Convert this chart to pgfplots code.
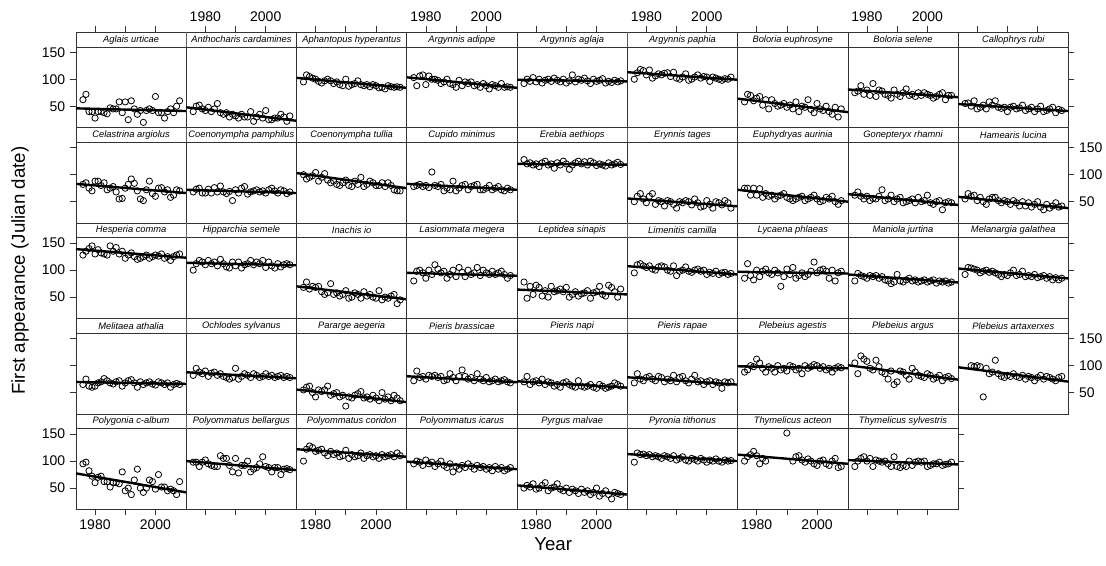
\documentclass[border=0pt]{standalone}
\usepackage{fontspec}
\setmainfont{Liberation Sans}
\usepackage{pgfplots}
\pgfplotsset{compat=1.18}
\usepgfplotslibrary{groupplots}

% one lattice panel: plot area + strip on top (strip = upper 14.5px of the axis)
\pgfplotsset{
  panel/.style={width=82.7pt, height=71.6pt, scale only axis,
    xmin=1973.7, xmax=2010.2, ymin=10.6, ymax=187.5,
    xtick=\empty, ytick=\empty,
    axis line style={black!80, line width=0.5pt},
    tick style={black!80, line width=0.5pt},
    tick align=outside, major tick length=4.5pt,
    tick label style={font=\fontsize{10.5}{12}\selectfont}},
  XT/.style={xtick={1980,1990,2000}, xtick pos=right, xticklabel pos=right, xticklabels={1980,,2000}},
  Xt/.style={xtick={1980,1990,2000}, xtick pos=right, xticklabel pos=right, xticklabels={,,}},
  XB/.style={xtick={1980,1990,2000}, xtick pos=left, xticklabel pos=left, xticklabels={1980,,2000}},
  Xb/.style={xtick={1980,1990,2000}, xtick pos=left, xticklabel pos=left, xticklabels={,,}},
  YL/.style={ytick={50,100,150}, ytick pos=left, yticklabel pos=left, yticklabels={50,100,150}},
  Yl/.style={ytick={50,100,150}, ytick pos=left, yticklabel pos=left, yticklabels={,,}},
  YR/.style={ytick={50,100,150}, ytick pos=right, yticklabel pos=right, yticklabels={50,100,150}},
  Yr/.style={ytick={50,100,150}, ytick pos=right, yticklabel pos=right, yticklabels={,,}},
}
\tikzset{
  pts/.style={only marks, mark=o, mark size=2.35pt, black, mark options={line width=0.6pt}},
  reg/.style={black, line width=1.8pt},
}
\newcommand\strip[1]{\node[anchor=north, draw=black!80, line width=0.5pt, fill=white,
  minimum width=82.7pt, minimum height=10.9pt, inner sep=0pt,
  font=\fontsize{7}{8}\selectfont\itshape] at (rel axis cs:0.5,1) {#1};}

\begin{document}
\begin{tikzpicture}
\begin{groupplot}[group style={group size=9 by 5, horizontal sep=0pt, vertical sep=0pt}, panel]
% ---------- row 1
\nextgroupplot[Xt,YL]
\strip{Aglais urticae}
\addplot[pts] coordinates {(1976,62)(1977,72)(1978,40)(1979,40)(1980,28)(1981,40)(1982,40)(1983,38)(1984,36)(1985,47)(1986,45)(1987,45)(1988,58)(1989,38)(1990,58)(1991,25)(1992,60)(1993,45)(1994,35)(1995,42)(1996,20)(1997,42)(1998,45)(1999,42)(2000,68)(2001,38)(2002,38)(2003,28)(2004,40)(2005,45)(2006,38)(2007,50)(2008,60)};
\addplot[reg] coordinates {(1973.7,46)(2010.2,41)};
\nextgroupplot[XT]
\strip{Anthocharis cardamines}
\addplot[pts] coordinates {(1976,40)(1977,50)(1978,52)(1979,45)(1980,42)(1981,48)(1982,40)(1983,45)(1984,55)(1985,38)(1986,35)(1987,38)(1988,30)(1989,35)(1990,32)(1991,28)(1992,35)(1993,30)(1994,30)(1995,40)(1996,22)(1997,30)(1998,35)(1999,28)(2000,42)(2001,25)(2002,25)(2003,28)(2004,28)(2005,35)(2006,30)(2007,22)(2008,32)};
\addplot[reg] coordinates {(1973.7,48)(2010.2,23)};
\nextgroupplot[Xt]
\strip{Aphantopus hyperantus}
\addplot[pts] coordinates {(1976,95)(1977,108)(1978,105)(1979,102)(1980,100)(1981,96)(1982,93)(1983,97)(1984,100)(1985,97)(1986,92)(1987,95)(1988,90)(1989,88)(1990,100)(1991,87)(1992,90)(1993,92)(1994,97)(1995,90)(1996,88)(1997,90)(1998,86)(1999,90)(2000,88)(2001,84)(2002,85)(2003,82)(2004,88)(2005,86)(2006,85)(2007,86)(2008,85)};
\addplot[reg] coordinates {(1973.7,102.5)(2010.2,84)};
\nextgroupplot[XT]
\strip{Argynnis adippe}
\addplot[pts] coordinates {(1976,103)(1977,88)(1978,106)(1979,108)(1980,90)(1981,106)(1982,100)(1983,100)(1984,98)(1985,92)(1986,95)(1987,100)(1988,92)(1989,90)(1990,85)(1991,98)(1992,88)(1993,95)(1994,92)(1995,95)(1996,88)(1997,90)(1998,85)(1999,92)(2000,88)(2001,82)(2002,90)(2003,88)(2004,85)(2005,92)(2006,85)(2007,86)(2008,85)};
\addplot[reg] coordinates {(1973.7,103.5)(2010.2,84)};
\nextgroupplot[Xt]
\strip{Argynnis aglaja}
\addplot[pts] coordinates {(1976,92)(1977,100)(1978,96)(1979,103)(1980,95)(1981,100)(1982,93)(1983,98)(1984,100)(1985,96)(1986,102)(1987,98)(1988,95)(1989,100)(1990,93)(1991,97)(1992,108)(1993,95)(1994,100)(1995,98)(1996,102)(1997,97)(1998,92)(1999,100)(2000,96)(2001,98)(2002,101)(2003,93)(2004,96)(2005,94)(2006,98)(2007,95)(2008,97)};
\addplot[reg] coordinates {(1973.7,99)(2010.2,96)};
\nextgroupplot[XT]
\strip{Argynnis paphia}
\addplot[pts] coordinates {(1976,100)(1977,112)(1978,118)(1979,116)(1980,108)(1981,117)(1982,102)(1983,106)(1984,110)(1985,108)(1986,111)(1987,112)(1988,105)(1989,113)(1990,102)(1991,100)(1992,104)(1993,110)(1994,98)(1995,100)(1996,104)(1997,108)(1998,102)(1999,105)(2000,104)(2001,96)(2002,104)(2003,102)(2004,100)(2005,98)(2006,101)(2007,100)(2008,104)};
\addplot[reg] coordinates {(1973.7,113)(2010.2,99)};
\nextgroupplot[Xt]
\strip{Boloria euphrosyne}
\addplot[pts] coordinates {(1976,58)(1977,72)(1978,70)(1979,60)(1980,65)(1981,68)(1982,52)(1983,62)(1984,45)(1985,62)(1986,55)(1987,50)(1988,52)(1989,55)(1990,48)(1991,52)(1992,45)(1993,58)(1994,40)(1995,50)(1996,48)(1997,62)(1998,44)(1999,38)(2000,55)(2001,45)(2002,42)(2003,50)(2004,40)(2005,35)(2006,48)(2007,30)(2008,45)};
\addplot[reg] coordinates {(1973.7,64)(2010.2,39)};
\nextgroupplot[XT]
\strip{Boloria selene}
\addplot[pts] coordinates {(1976,75)(1977,78)(1978,88)(1979,72)(1980,80)(1981,70)(1982,92)(1983,68)(1984,80)(1985,78)(1986,72)(1987,70)(1988,65)(1989,80)(1990,72)(1991,68)(1992,75)(1993,82)(1994,70)(1995,72)(1996,68)(1997,75)(1998,70)(1999,75)(2000,72)(2001,70)(2002,65)(2003,68)(2004,72)(2005,75)(2006,62)(2007,70)(2008,70)};
\addplot[reg] coordinates {(1973.7,81)(2010.2,66.6)};
\nextgroupplot[Xt,Yr]
\strip{Callophrys rubi}
\addplot[pts] coordinates {(1976,55)(1977,56)(1978,50)(1979,60)(1980,45)(1981,48)(1982,52)(1983,45)(1984,58)(1985,52)(1986,60)(1987,48)(1988,46)(1989,48)(1990,40)(1991,48)(1992,50)(1993,45)(1994,47)(1995,52)(1996,42)(1997,45)(1998,48)(1999,40)(2000,45)(2001,50)(2002,40)(2003,42)(2004,45)(2005,48)(2006,38)(2007,44)(2008,42)};
\addplot[reg] coordinates {(1973.7,54)(2010.2,41)};
% ---------- row 2
\nextgroupplot[Yl]
\strip{Celastrina argiolus}
\addplot[pts] coordinates {(1976,82)(1977,85)(1978,75)(1979,70)(1980,88)(1981,88)(1982,80)(1983,85)(1984,72)(1985,75)(1986,78)(1987,68)(1988,55)(1989,56)(1990,75)(1991,82)(1992,92)(1993,84)(1994,70)(1995,55)(1996,52)(1997,72)(1998,88)(1999,65)(2000,60)(2001,75)(2002,76)(2003,68)(2004,72)(2005,58)(2006,62)(2007,72)(2008,70)};
\addplot[reg] coordinates {(1973.7,83)(2010.2,66)};
\nextgroupplot
\strip{Coenonympha pamphilus}
\addplot[pts] coordinates {(1976,68)(1977,73)(1978,75)(1979,66)(1980,66)(1981,73)(1982,66)(1983,76)(1984,68)(1985,79)(1986,68)(1987,65)(1988,69)(1989,52)(1990,72)(1991,66)(1992,75)(1993,78)(1994,64)(1995,68)(1996,70)(1997,72)(1998,68)(1999,70)(2000,66)(2001,72)(2002,75)(2003,70)(2004,66)(2005,72)(2006,70)(2007,65)(2008,68)};
\addplot[reg] coordinates {(1973.7,72)(2010.2,66)};
\nextgroupplot
\strip{Coenonympha tullia}
\addplot[pts] coordinates {(1976,100)(1977,92)(1978,95)(1979,98)(1980,104)(1981,88)(1982,95)(1983,102)(1984,90)(1985,85)(1986,88)(1987,82)(1988,80)(1989,85)(1990,90)(1991,80)(1992,78)(1993,88)(1994,82)(1995,95)(1996,78)(1997,82)(1998,88)(1999,85)(2000,80)(2001,80)(2002,85)(2003,78)(2004,85)(2005,80)(2006,72)(2007,70)(2008,70)};
\addplot[reg] coordinates {(1973.7,103)(2010.2,75)};
\nextgroupplot
\strip{Cupido minimus}
\addplot[pts] coordinates {(1976,78)(1977,80)(1978,82)(1979,78)(1980,80)(1981,76)(1982,105)(1983,80)(1984,78)(1985,82)(1986,70)(1987,75)(1988,72)(1989,88)(1990,70)(1991,75)(1992,80)(1993,82)(1994,72)(1995,78)(1996,80)(1997,82)(1998,72)(1999,72)(2000,75)(2001,80)(2002,72)(2003,75)(2004,78)(2005,72)(2006,70)(2007,75)(2008,72)};
\addplot[reg] coordinates {(1973.7,83)(2010.2,72)};
\nextgroupplot
\strip{Erebia aethiops}
\addplot[pts] coordinates {(1976,128)(1977,120)(1978,122)(1979,118)(1980,120)(1981,115)(1982,122)(1983,125)(1984,118)(1985,120)(1986,112)(1987,122)(1988,118)(1989,125)(1990,120)(1991,110)(1992,118)(1993,122)(1994,125)(1995,120)(1996,124)(1997,118)(1998,125)(1999,122)(2000,117)(2001,120)(2002,118)(2003,116)(2004,122)(2005,118)(2006,120)(2007,123)(2008,119)};
\addplot[reg] coordinates {(1973.7,120)(2010.2,118.5)};
\nextgroupplot
\strip{Erynnis tages}
\addplot[pts] coordinates {(1976,50)(1977,60)(1978,65)(1979,55)(1980,48)(1981,60)(1982,65)(1983,45)(1984,52)(1985,50)(1986,42)(1987,52)(1988,50)(1989,45)(1990,38)(1991,50)(1992,48)(1993,52)(1994,50)(1995,44)(1996,55)(1997,48)(1998,40)(1999,42)(2000,52)(2001,45)(2002,38)(2003,50)(2004,48)(2005,44)(2006,52)(2007,48)(2008,38)};
\addplot[reg] coordinates {(1973.7,56)(2010.2,41.4)};
\nextgroupplot
\strip{Euphydryas aurinia}
\addplot[pts] coordinates {(1976,75)(1977,75)(1978,62)(1979,75)(1980,62)(1981,74)(1982,58)(1983,65)(1984,60)(1985,62)(1986,55)(1987,60)(1988,62)(1989,65)(1990,58)(1991,55)(1992,52)(1993,55)(1994,58)(1995,60)(1996,52)(1997,55)(1998,58)(1999,62)(2000,55)(2001,50)(2002,52)(2003,58)(2004,55)(2005,60)(2006,50)(2007,45)(2008,52)};
\addplot[reg] coordinates {(1973.7,72)(2010.2,50)};
\nextgroupplot
\strip{Gonepteryx rhamni}
\addplot[pts] coordinates {(1976,62)(1977,68)(1978,60)(1979,55)(1980,60)(1981,52)(1982,56)(1983,55)(1984,60)(1985,72)(1986,52)(1987,55)(1988,62)(1989,50)(1990,55)(1991,58)(1992,48)(1993,50)(1994,52)(1995,55)(1996,48)(1997,58)(1998,50)(1999,52)(2000,62)(2001,48)(2002,45)(2003,50)(2004,52)(2005,35)(2006,48)(2007,50)(2008,48)};
\addplot[reg] coordinates {(1973.7,64)(2010.2,44)};
\nextgroupplot[YR]
\strip{Hamearis lucina}
\addplot[pts] coordinates {(1976,55)(1977,65)(1978,60)(1979,62)(1980,52)(1981,58)(1982,50)(1983,45)(1984,55)(1985,58)(1986,58)(1987,52)(1988,48)(1989,52)(1990,50)(1991,45)(1992,52)(1993,48)(1994,42)(1995,50)(1996,42)(1997,48)(1998,40)(1999,45)(2000,50)(2001,40)(2002,35)(2003,45)(2004,38)(2005,42)(2006,48)(2007,40)(2008,42)};
\addplot[reg] coordinates {(1973.7,59)(2010.2,38)};
% ---------- row 3
\nextgroupplot[YL]
\strip{Hesperia comma}
\addplot[pts] coordinates {(1976,128)(1977,135)(1978,140)(1979,145)(1980,130)(1981,138)(1982,132)(1983,130)(1984,128)(1985,145)(1986,135)(1987,142)(1988,130)(1989,135)(1990,122)(1991,128)(1992,132)(1993,125)(1994,120)(1995,122)(1996,125)(1997,128)(1998,122)(1999,125)(2000,128)(2001,126)(2002,130)(2003,122)(2004,125)(2005,118)(2006,125)(2007,128)(2008,130)};
\addplot[reg] coordinates {(1973.7,139)(2010.2,123)};
\nextgroupplot
\strip{Hipparchia semele}
\addplot[pts] coordinates {(1976,100)(1977,112)(1978,118)(1979,115)(1980,110)(1981,118)(1982,112)(1983,115)(1984,108)(1985,120)(1986,112)(1987,106)(1988,104)(1989,115)(1990,108)(1991,115)(1992,104)(1993,110)(1994,112)(1995,118)(1996,110)(1997,115)(1998,112)(1999,118)(2000,105)(2001,115)(2002,108)(2003,104)(2004,112)(2005,106)(2006,110)(2007,112)(2008,110)};
\addplot[reg] coordinates {(1973.7,113.6)(2010.2,109)};
\nextgroupplot
\strip{Inachis io}
\addplot[pts] coordinates {(1976,68)(1977,78)(1978,65)(1979,70)(1980,68)(1981,70)(1982,60)(1983,55)(1984,58)(1985,75)(1986,55)(1987,58)(1988,52)(1989,55)(1990,62)(1991,48)(1992,50)(1993,58)(1994,55)(1995,48)(1996,60)(1997,52)(1998,55)(1999,50)(2000,48)(2001,62)(2002,45)(2003,50)(2004,48)(2005,52)(2006,55)(2007,38)(2008,45)};
\addplot[reg] coordinates {(1973.7,70)(2010.2,46)};
\nextgroupplot
\strip{Lasiommata megera}
\addplot[pts] coordinates {(1976,80)(1977,98)(1978,100)(1979,95)(1980,85)(1981,100)(1982,92)(1983,110)(1984,102)(1985,95)(1986,98)(1987,85)(1988,92)(1989,100)(1990,88)(1991,105)(1992,96)(1993,88)(1994,100)(1995,92)(1996,95)(1997,105)(1998,90)(1999,100)(2000,95)(2001,92)(2002,98)(2003,92)(2004,95)(2005,98)(2006,92)(2007,85)(2008,90)};
\addplot[reg] coordinates {(1973.7,95)(2010.2,89.6)};
\nextgroupplot
\strip{Leptidea sinapis}
\addplot[pts] coordinates {(1976,78)(1977,48)(1978,70)(1979,55)(1980,72)(1981,68)(1982,52)(1983,62)(1984,50)(1985,70)(1986,60)(1987,62)(1988,65)(1989,60)(1990,68)(1991,50)(1992,55)(1993,60)(1994,52)(1995,56)(1996,58)(1997,62)(1998,48)(1999,58)(2000,60)(2001,70)(2002,55)(2003,52)(2004,72)(2005,68)(2006,60)(2007,50)(2008,65)};
\addplot[reg] coordinates {(1973.7,64)(2010.2,55)};
\nextgroupplot
\strip{Limenitis camilla}
\addplot[pts] coordinates {(1976,95)(1977,110)(1978,112)(1979,108)(1980,105)(1981,108)(1982,102)(1983,100)(1984,106)(1985,108)(1986,106)(1987,100)(1988,98)(1989,108)(1990,90)(1991,98)(1992,100)(1993,106)(1994,98)(1995,96)(1996,100)(1997,102)(1998,98)(1999,100)(2000,92)(2001,96)(2002,94)(2003,98)(2004,92)(2005,95)(2006,96)(2007,92)(2008,94)};
\addplot[reg] coordinates {(1973.7,107.4)(2010.2,92)};
\nextgroupplot
\strip{Lycaena phlaeas}
\addplot[pts] coordinates {(1976,85)(1977,112)(1978,90)(1979,82)(1980,100)(1981,88)(1982,98)(1983,102)(1984,95)(1985,92)(1986,100)(1987,95)(1988,70)(1989,88)(1990,102)(1991,92)(1992,105)(1993,85)(1994,90)(1995,95)(1996,88)(1997,92)(1998,98)(1999,115)(2000,95)(2001,100)(2002,102)(2003,98)(2004,85)(2005,100)(2006,80)(2007,95)(2008,98)};
\addplot[reg] coordinates {(1973.7,97)(2010.2,93.8)};
\nextgroupplot
\strip{Maniola jurtina}
\addplot[pts] coordinates {(1976,80)(1977,94)(1978,90)(1979,88)(1980,85)(1981,90)(1982,88)(1983,90)(1984,85)(1985,88)(1986,82)(1987,80)(1988,75)(1989,78)(1990,92)(1991,80)(1992,78)(1993,82)(1994,85)(1995,80)(1996,82)(1997,78)(1998,80)(1999,82)(2000,78)(2001,80)(2002,82)(2003,76)(2004,80)(2005,78)(2006,80)(2007,76)(2008,78)};
\addplot[reg] coordinates {(1973.7,92)(2010.2,77.2)};
\nextgroupplot[Yr]
\strip{Melanargia galathea}
\addplot[pts] coordinates {(1976,92)(1977,105)(1978,104)(1979,102)(1980,100)(1981,95)(1982,98)(1983,100)(1984,96)(1985,98)(1986,95)(1987,92)(1988,88)(1989,92)(1990,90)(1991,95)(1992,100)(1993,90)(1994,92)(1995,98)(1996,88)(1997,90)(1998,88)(1999,92)(2000,86)(2001,88)(2002,90)(2003,85)(2004,88)(2005,82)(2006,86)(2007,82)(2008,85)};
\addplot[reg] coordinates {(1973.7,103)(2010.2,84.6)};
% ---------- row 4
\nextgroupplot[Yl]
\strip{Melitaea athalia}
\addplot[pts] coordinates {(1976,65)(1977,75)(1978,62)(1979,60)(1980,62)(1981,68)(1982,70)(1983,76)(1984,72)(1985,68)(1986,66)(1987,70)(1988,72)(1989,62)(1990,68)(1991,72)(1992,74)(1993,68)(1994,60)(1995,70)(1996,65)(1997,68)(1998,70)(1999,66)(2000,64)(2001,70)(2002,68)(2003,65)(2004,68)(2005,60)(2006,65)(2007,67)(2008,65)};
\addplot[reg] coordinates {(1973.7,69.8)(2010.2,66)};
\nextgroupplot
\strip{Ochlodes sylvanus}
\addplot[pts] coordinates {(1976,82)(1977,95)(1978,88)(1979,85)(1980,90)(1981,80)(1982,86)(1983,88)(1984,82)(1985,85)(1986,80)(1987,78)(1988,75)(1989,78)(1990,95)(1991,75)(1992,80)(1993,85)(1994,82)(1995,78)(1996,85)(1997,82)(1998,78)(1999,80)(2000,85)(2001,80)(2002,82)(2003,78)(2004,80)(2005,82)(2006,78)(2007,80)(2008,78)};
\addplot[reg] coordinates {(1973.7,87.7)(2010.2,76.6)};
\nextgroupplot
\strip{Pararge aegeria}
\addplot[pts] coordinates {(1976,55)(1977,60)(1978,62)(1979,50)(1980,42)(1981,55)(1982,52)(1983,55)(1984,62)(1985,45)(1986,48)(1987,50)(1988,42)(1989,45)(1990,25)(1991,42)(1992,40)(1993,45)(1994,48)(1995,52)(1996,40)(1997,42)(1998,38)(1999,45)(2000,40)(2001,35)(2002,50)(2003,38)(2004,42)(2005,35)(2006,45)(2007,40)(2008,35)};
\addplot[reg] coordinates {(1973.7,55.6)(2010.2,32.2)};
\nextgroupplot
\strip{Pieris brassicae}
\addplot[pts] coordinates {(1976,72)(1977,90)(1978,78)(1979,80)(1980,75)(1981,82)(1982,80)(1983,82)(1984,78)(1985,80)(1986,72)(1987,74)(1988,85)(1989,78)(1990,72)(1991,80)(1992,92)(1993,80)(1994,75)(1995,78)(1996,72)(1997,85)(1998,75)(1999,72)(2000,78)(2001,70)(2002,72)(2003,75)(2004,70)(2005,72)(2006,74)(2007,70)(2008,68)};
\addplot[reg] coordinates {(1973.7,80.3)(2010.2,69.2)};
\nextgroupplot
\strip{Pieris napi}
\addplot[pts] coordinates {(1976,70)(1977,80)(1978,65)(1979,70)(1980,72)(1981,68)(1982,75)(1983,65)(1984,70)(1985,68)(1986,62)(1987,65)(1988,60)(1989,68)(1990,70)(1991,65)(1992,62)(1993,60)(1994,72)(1995,62)(1996,60)(1997,62)(1998,65)(1999,60)(2000,58)(2001,65)(2002,62)(2003,58)(2004,60)(2005,62)(2006,68)(2007,65)(2008,62)};
\addplot[reg] coordinates {(1973.7,71)(2010.2,59.2)};
\nextgroupplot
\strip{Pieris rapae}
\addplot[pts] coordinates {(1976,68)(1977,85)(1978,75)(1979,72)(1980,78)(1981,80)(1982,75)(1983,72)(1984,80)(1985,78)(1986,70)(1987,75)(1988,72)(1989,82)(1990,70)(1991,78)(1992,80)(1993,72)(1994,68)(1995,75)(1996,82)(1997,70)(1998,72)(1999,65)(2000,70)(2001,72)(2002,65)(2003,70)(2004,68)(2005,58)(2006,70)(2007,68)(2008,70)};
\addplot[reg] coordinates {(1973.7,78.4)(2010.2,64.8)};
\nextgroupplot
\strip{Plebeius agestis}
\addplot[pts] coordinates {(1976,88)(1977,92)(1978,100)(1979,98)(1980,112)(1981,105)(1982,95)(1983,88)(1984,98)(1985,95)(1986,88)(1987,100)(1988,92)(1989,95)(1990,90)(1991,100)(1992,98)(1993,92)(1994,95)(1995,85)(1996,100)(1997,95)(1998,98)(1999,102)(2000,100)(2001,95)(2002,98)(2003,92)(2004,95)(2005,88)(2006,95)(2007,98)(2008,96)};
\addplot[reg] coordinates {(1973.7,98.8)(2010.2,95.1)};
\nextgroupplot
\strip{Plebeius argus}
\addplot[pts] coordinates {(1976,105)(1977,85)(1978,118)(1979,112)(1980,108)(1981,95)(1982,92)(1983,110)(1984,98)(1985,88)(1986,85)(1987,75)(1988,90)(1989,65)(1990,70)(1991,90)(1992,88)(1993,82)(1994,75)(1995,95)(1996,88)(1997,82)(1998,80)(1999,78)(2000,85)(2001,82)(2002,75)(2003,78)(2004,82)(2005,72)(2006,78)(2007,80)(2008,76)};
\addplot[reg] coordinates {(1973.7,100.7)(2010.2,74)};
\nextgroupplot[YR]
\strip{Plebeius artaxerxes}
\addplot[pts] coordinates {(1978,100)(1979,98)(1980,100)(1981,98)(1982,42)(1983,95)(1984,85)(1985,88)(1986,110)(1987,85)(1988,80)(1989,78)(1990,82)(1991,80)(1992,85)(1993,80)(1994,78)(1995,82)(1996,75)(1997,80)(1998,78)(1999,72)(2000,78)(2001,82)(2002,75)(2003,80)(2004,78)(2005,75)(2006,72)(2007,78)(2008,80)};
\addplot[reg] coordinates {(1973.7,97)(2010.2,70.3)};
% ---------- row 5
\nextgroupplot[XB,YL]
\strip{Polygonia c-album}
\addplot[pts] coordinates {(1976,95)(1977,98)(1978,82)(1979,72)(1980,60)(1981,70)(1982,72)(1983,62)(1984,62)(1985,52)(1986,60)(1987,60)(1988,58)(1989,80)(1990,45)(1991,50)(1992,38)(1993,65)(1994,85)(1995,50)(1996,42)(1997,50)(1998,65)(1999,62)(2000,48)(2001,75)(2002,52)(2003,52)(2004,45)(2005,48)(2006,45)(2007,38)(2008,62)};
\addplot[reg] coordinates {(1973.7,77.2)(2010.2,42)};
\nextgroupplot[Xb]
\strip{Polyommatus bellargus}
\addplot[pts] coordinates {(1976,98)(1977,98)(1978,90)(1979,98)(1980,102)(1981,95)(1982,92)(1983,90)(1984,90)(1985,110)(1986,105)(1987,105)(1988,92)(1989,80)(1990,105)(1991,78)(1992,92)(1993,92)(1994,100)(1995,80)(1996,85)(1997,88)(1998,95)(1999,108)(2000,90)(2001,88)(2002,80)(2003,88)(2004,88)(2005,75)(2006,85)(2007,86)(2008,84)};
\addplot[reg] coordinates {(1973.7,100)(2010.2,83.3)};
\nextgroupplot[XB]
\strip{Polyommatus coridon}
\addplot[pts] coordinates {(1976,100)(1977,122)(1978,128)(1979,125)(1980,118)(1981,120)(1982,122)(1983,115)(1984,110)(1985,118)(1986,112)(1987,115)(1988,108)(1989,110)(1990,120)(1991,105)(1992,112)(1993,108)(1994,110)(1995,115)(1996,105)(1997,110)(1998,112)(1999,108)(2000,110)(2001,105)(2002,112)(2003,108)(2004,110)(2005,112)(2006,108)(2007,115)(2008,110)};
\addplot[reg] coordinates {(1973.7,122)(2010.2,108)};
\nextgroupplot[Xb]
\strip{Polyommatus icarus}
\addplot[pts] coordinates {(1976,95)(1977,100)(1978,98)(1979,92)(1980,102)(1981,95)(1982,98)(1983,90)(1984,95)(1985,100)(1986,92)(1987,88)(1988,95)(1989,80)(1990,90)(1991,85)(1992,92)(1993,88)(1994,95)(1995,90)(1996,85)(1997,92)(1998,88)(1999,90)(2000,85)(2001,88)(2002,82)(2003,90)(2004,85)(2005,88)(2006,82)(2007,85)(2008,88)};
\addplot[reg] coordinates {(1973.7,99)(2010.2,85)};
\nextgroupplot[XB]
\strip{Pyrgus malvae}
\addplot[pts] coordinates {(1976,50)(1977,55)(1978,52)(1979,58)(1980,48)(1981,50)(1982,55)(1983,60)(1984,45)(1985,50)(1986,52)(1987,58)(1988,48)(1989,45)(1990,50)(1991,42)(1992,48)(1993,45)(1994,40)(1995,48)(1996,42)(1997,45)(1998,38)(1999,42)(2000,50)(2001,35)(2002,40)(2003,45)(2004,38)(2005,30)(2006,42)(2007,40)(2008,38)};
\addplot[reg] coordinates {(1973.7,55)(2010.2,38)};
\nextgroupplot[Xb]
\strip{Pyronia tithonus}
\addplot[pts] coordinates {(1976,98)(1977,115)(1978,112)(1979,113)(1980,110)(1981,112)(1982,108)(1983,110)(1984,108)(1985,105)(1986,110)(1987,108)(1988,105)(1989,110)(1990,102)(1991,105)(1992,108)(1993,102)(1994,100)(1995,105)(1996,103)(1997,100)(1998,105)(1999,102)(2000,98)(2001,102)(2002,100)(2003,104)(2004,100)(2005,98)(2006,102)(2007,100)(2008,101)};
\addplot[reg] coordinates {(1973.7,113)(2010.2,100)};
\nextgroupplot[XB]
\strip{Thymelicus acteon}
\addplot[pts] coordinates {(1976,100)(1977,108)(1978,112)(1979,118)(1980,110)(1981,95)(1982,105)(1983,100)(1990,152)(1992,100)(1993,108)(1994,110)(1995,102)(1996,98)(1997,104)(1998,100)(1999,95)(2000,92)(2001,100)(2002,102)(2003,95)(2004,92)(2005,100)(2006,105)(2007,88)(2008,90)};
\addplot[reg] coordinates {(1973.7,112)(2010.2,95)};
\nextgroupplot[Xb,Yr]
\strip{Thymelicus sylvestris}
\addplot[pts] coordinates {(1976,90)(1977,100)(1978,105)(1979,108)(1980,100)(1981,105)(1982,90)(1983,102)(1984,100)(1985,98)(1986,100)(1987,95)(1988,90)(1989,108)(1990,90)(1991,88)(1992,92)(1993,90)(1994,100)(1995,92)(1996,98)(1997,100)(1998,98)(1999,100)(2000,90)(2001,92)(2002,95)(2003,95)(2004,98)(2005,92)(2006,94)(2007,95)(2008,98)};
\addplot[reg] coordinates {(1973.7,101.8)(2010.2,93.8)};
\end{groupplot}
\node[rotate=90, font=\fontsize{14}{16}\selectfont] at ([xshift=-42pt]group c1r3.west) {First appearance (Julian date)};
\node[font=\fontsize{14}{16}\selectfont] at ([xshift=-14.25pt,yshift=-26.25pt]group c5r5.south) {Year};
\pgfresetboundingbox
\path[use as bounding box] ([xshift=-57pt,yshift=24pt]group c1r1.north west) rectangle ([xshift=772.5pt,yshift=-400.5pt]group c1r1.north west);
\end{tikzpicture}
\end{document}
